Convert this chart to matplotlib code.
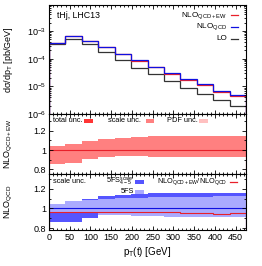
import numpy as np
import matplotlib

matplotlib.use("Agg")
import matplotlib.pyplot as plt
from matplotlib.ticker import LogLocator, MultipleLocator, NullFormatter

plt.rcParams["font.family"] = ["Liberation Sans", "DejaVu Sans"]
plt.rcParams["mathtext.fontset"] = "custom"
plt.rcParams["mathtext.rm"] = "Liberation Sans"
plt.rcParams["mathtext.it"] = "Liberation Sans"

# ---- data ----
edges = [0, 39.6, 79.2, 118.8, 158.3, 197.9, 237.5, 277.1, 316.7, 356.3, 395.8, 435.4, 475]

nlo_qcd = [3.8e-4, 6.6e-4, 4.5e-4, 2.7e-4, 1.52e-4, 8.7e-5, 5.2e-5, 3.0e-5, 1.8e-5, 1.18e-5, 6.6e-6, 4.9e-6]
nlo_ew = [3.67e-4, 6.37e-4, 4.34e-4, 2.61e-4, 1.47e-4, 8.4e-5, 5.0e-5, 2.87e-5, 1.72e-5, 1.13e-5, 6.25e-6, 4.65e-6]
lo = [3.35e-4, 5.3e-4, 3.3e-4, 1.7e-4, 9.0e-5, 4.8e-5, 2.7e-5, 1.55e-5, 8.9e-6, 5.5e-6, 3.3e-6, 2.0e-6]

# NLO_QCD+EW uncertainty band (ratio to central)
ew_center = [1.0] * 12
ew_up = [1.04, 1.063, 1.09, 1.112, 1.123, 1.133, 1.144, 1.145, 1.147, 1.148, 1.15, 1.15]
ew_lo = [0.849, 0.866, 0.902, 0.923, 0.937, 0.94, 0.93, 0.928, 0.925, 0.924, 0.923, 0.923]

# NLO_QCD ratio panel
fs45_up = [1.02, 1.05, 1.10, 1.126, 1.14, 1.147, 1.152, 1.154, 1.155, 1.155, 1.156, 1.156]
fs45_lo = [0.86, 0.86, 0.905, 0.94, 0.95, 0.955, 0.96, 0.96, 0.96, 0.96, 0.96, 0.96]
fs5_up = [1.044, 1.072, 1.085, 1.095, 1.105, 1.11, 1.115, 1.118, 1.12, 1.12, 1.122, 1.122]
fs5_lo = [0.96, 0.955, 0.95, 0.935, 0.93, 0.925, 0.92, 0.918, 0.915, 0.912, 0.91, 0.91]
qcd_center = [1.0] * 12
ew_over_qcd = [0.966, 0.966, 0.966, 0.968, 0.968, 0.966, 0.963, 0.959, 0.958, 0.956, 0.948, 0.95]

RED = "#e8202a"
BLUE = "#1010e0"
BAND_RED = "#ff8080"
TOT_RED = "#ff3535"
PDF_RED = "#ffc0c0"
DARK_BLUE = "#5555ff"
LIGHT_BLUE = "#aaaaff"

fs_tick = 6.5
fs_leg = 5.3

fig = plt.figure(figsize=(2.62, 2.66), dpi=100)
L, W = 0.187, 0.752
ax1 = fig.add_axes([L, 0.571, W, 0.410])
ax2 = fig.add_axes([L, 0.346, W, 0.225])
ax3 = fig.add_axes([L, 0.135, W, 0.211])

for ax in (ax1, ax2, ax3):
    ax.set_xlim(0, 475)
    ax.xaxis.set_major_locator(MultipleLocator(50))
    ax.xaxis.set_minor_locator(MultipleLocator(10))
    ax.tick_params(which="both", direction="in", top=True, right=True,
                   labelsize=fs_tick, width=0.6, pad=2)
    ax.tick_params(which="major", length=3)
    ax.tick_params(which="minor", length=1.5)
    for s in ax.spines.values():
        s.set_linewidth(0.8)
    ax.yaxis.set_label_coords(-0.17, 0.5)

# ---- top panel ----
ax1.set_yscale("log")
ax1.set_ylim(1e-6, 8.7e-3)
ax1.stairs(lo, edges, color="#333333", lw=0.9)
ax1.stairs(nlo_ew, edges, color=RED, lw=0.9)
ax1.stairs(nlo_qcd, edges, color=BLUE, lw=0.9)
ax1.yaxis.set_major_locator(LogLocator(base=10, numticks=10))
ax1.yaxis.set_minor_locator(LogLocator(base=10, subs=np.arange(2, 10), numticks=10))
ax1.yaxis.set_minor_formatter(NullFormatter())
ax1.tick_params(labelbottom=False)
ax1.set_ylabel(r"d$\sigma$/dp$_\mathrm{T}$ [pb/GeV]", fontsize=6.5)
ax1.text(0.04, 0.905, "tHj, LHC13", transform=ax1.transAxes, fontsize=6.3, va="center")
for yy, lab, col in [(0.905, r"NLO$_\mathrm{QCD+EW}$", RED),
                     (0.80, r"NLO$_\mathrm{QCD}$", BLUE),
                     (0.69, "LO", "#333333")]:
    ax1.text(0.905, yy, lab, transform=ax1.transAxes, fontsize=fs_leg + 0.6,
             ha="right", va="center")
    ax1.plot([0.924, 0.96], [yy, yy], transform=ax1.transAxes, color=col, lw=0.9)

# ---- middle panel ----
ax2.set_ylim(0.75, 1.375)
ax2.stairs(ew_up, edges, baseline=ew_lo, fill=True, color=BAND_RED, lw=0)
ax2.stairs(ew_center, edges, color=RED, lw=0.8)
ax2.yaxis.set_major_locator(MultipleLocator(0.2))
ax2.yaxis.set_minor_locator(MultipleLocator(0.1))
ax2.yaxis.set_major_formatter(matplotlib.ticker.FuncFormatter(lambda v, p: f"{v:g}"))
ax2.tick_params(labelbottom=False)
ax2.set_ylabel(r"NLO$_\mathrm{QCD+EW}$", fontsize=6.5)
for x0, lab, bx, col in [(0.02, "total unc.", 0.18, TOT_RED),
                         (0.30, "scale unc.", 0.49, BAND_RED),
                         (0.60, "PDF unc.", 0.76, PDF_RED)]:
    ax2.text(x0, 0.885, lab, transform=ax2.transAxes, fontsize=fs_leg, va="center")
    ax2.add_patch(plt.Rectangle((bx, 0.85), 0.045, 0.07, transform=ax2.transAxes,
                                color=col, lw=0))

# ---- bottom panel ----
ax3.set_ylim(0.78, 1.35)
ax3.stairs(fs45_up, edges, baseline=fs45_lo, fill=True, color=DARK_BLUE, lw=0)
ax3.stairs(fs5_up, edges, baseline=fs5_lo, fill=True, color=LIGHT_BLUE, lw=0)
ax3.stairs(qcd_center, edges, color=BLUE, lw=0.8)
ax3.stairs(ew_over_qcd, edges, color=RED, lw=0.8)
ax3.yaxis.set_major_locator(MultipleLocator(0.2))
ax3.yaxis.set_minor_locator(MultipleLocator(0.1))
ax3.yaxis.set_major_formatter(matplotlib.ticker.FuncFormatter(lambda v, p: f"{v:g}"))
ax3.set_ylabel(r"NLO$_\mathrm{QCD}$", fontsize=6.5)
ax3.set_xlabel(r"p$_\mathrm{T}$(t) [GeV]", fontsize=7, labelpad=2)
ax3.text(0.02, 0.86, "scale unc.", transform=ax3.transAxes, fontsize=fs_leg, va="center")
ax3.text(0.43, 0.86, r"5FS$^\mathrm{scale}_\mathrm{4-5}$", transform=ax3.transAxes,
         fontsize=fs_leg, va="center", ha="right")
ax3.add_patch(plt.Rectangle((0.435, 0.82), 0.045, 0.08, transform=ax3.transAxes,
                            color=DARK_BLUE, lw=0))
ax3.text(0.43, 0.68, "5FS", transform=ax3.transAxes, fontsize=fs_leg, va="center", ha="right")
ax3.add_patch(plt.Rectangle((0.435, 0.64), 0.045, 0.08, transform=ax3.transAxes,
                            color=LIGHT_BLUE, lw=0))
ax3.text(0.905, 0.86, r"NLO$_\mathrm{QCD+EW}$/NLO$_\mathrm{QCD}$", transform=ax3.transAxes,
         fontsize=fs_leg, va="center", ha="right")
ax3.plot([0.92, 0.955], [0.86, 0.86], transform=ax3.transAxes, color=RED, lw=0.9)

fig.savefig("out.png", dpi=100)
